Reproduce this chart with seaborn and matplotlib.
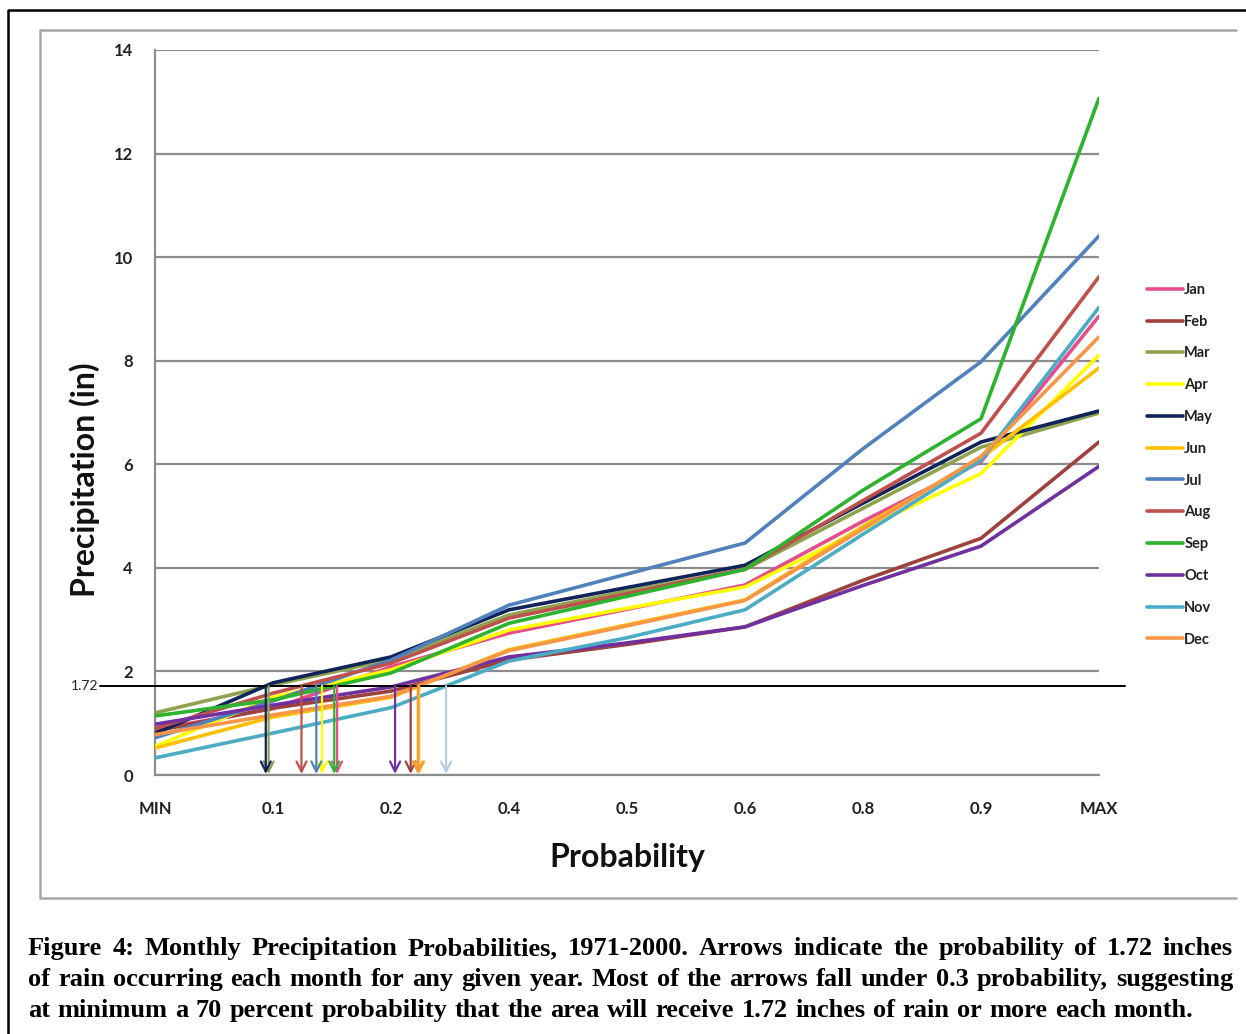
import numpy as np
import pandas as pd
import matplotlib
matplotlib.use("Agg")
import matplotlib.pyplot as plt
import matplotlib.transforms as mtransforms
from matplotlib.lines import Line2D
from matplotlib.ticker import MultipleLocator, FixedLocator
import seaborn as sns

# ---- data -----------------------------------------------------------------
probabilities = ["MIN", "0.1", "0.2", "0.4", "0.5", "0.6", "0.8", "0.9", "MAX"]
months = ["Jan", "Feb", "Mar", "Apr", "May", "Jun",
          "Jul", "Aug", "Sep", "Oct", "Nov", "Dec"]

jan = [0.88, 1.28, 2.09, 2.74, 3.20, 3.67, 4.90, 6.05, 8.86]
feb = [0.85, 1.29, 1.62, 2.22, 2.52, 2.86, 3.76, 4.57, 6.43]
mar = [1.20, 1.74, 2.23, 3.09, 3.55, 3.97, 5.15, 6.33, 6.99]
apr = [0.55, 1.50, 2.03, 2.80, 3.22, 3.63, 4.75, 5.82, 8.11]
may = [0.80, 1.78, 2.28, 3.19, 3.62, 4.05, 5.25, 6.43, 7.03]
jun = [0.52, 1.12, 1.50, 2.42, 2.90, 3.38, 4.80, 6.12, 7.86]
jul = [0.72, 1.43, 2.22, 3.28, 3.88, 4.48, 6.30, 7.98, 10.41]
aug = [0.90, 1.58, 2.16, 3.03, 3.50, 3.98, 5.30, 6.60, 9.62]
sep = [1.14, 1.45, 1.97, 2.93, 3.45, 3.97, 5.50, 6.88, 13.07]
oct_ = [0.98, 1.35, 1.70, 2.28, 2.55, 2.86, 3.66, 4.42, 5.96]
nov = [0.33, 0.81, 1.30, 2.20, 2.65, 3.19, 4.65, 6.08, 9.03]
dec = [0.78, 1.16, 1.52, 2.40, 2.88, 3.37, 4.75, 6.15, 8.46]

threshold = 1.72

series = [jan, feb, mar, apr, may, jun, jul, aug, sep, oct_, nov, dec]

# ---- styling ----------------------------------------------------------------
line_colors = ["#E84C8B", "#9E413E", "#8FA34F", "#FFFF00", "#10245A", "#FFC000",
               "#4F81BD", "#C0504D", "#2DB32D", "#7030A0", "#4BACC6", "#F79646"]
arrow_colors = list(line_colors)
arrow_colors[10] = "#B9CDE5"
palette = dict(zip(months, line_colors))

sns.set_style("white")
plt.rcParams["font.family"] = ["Lato", "DejaVu Sans"]

W, H = 1246, 1034
fig = plt.figure(figsize=(W / 100, H / 100), dpi=100)

ax_left, ax_right, ax_top, ax_bottom = 155, 1099, 50, 775
ax_w, ax_h = ax_right - ax_left, ax_bottom - ax_top
ax = fig.add_axes([ax_left / W, 1 - ax_bottom / H, ax_w / W, ax_h / H])

# long-form table for seaborn
rows = []
for m, vals in zip(months, series):
    for i, v in enumerate(vals):
        rows.append({"month": m, "pos": i, "precip": v})
df = pd.DataFrame(rows)

sns.lineplot(data=df, x="pos", y="precip", hue="month", hue_order=months,
             palette=palette, linewidth=2.6, sort=False, legend=False, ax=ax,
             zorder=3)

ax.set_xlim(0, len(probabilities) - 1)
ax.set_ylim(0, 14)

grid_c = "#8c8c8c"
ax.set_yticks(np.arange(0, 15, 2))
ax.yaxis.set_minor_locator(MultipleLocator(0.25))
ax.yaxis.grid(True, color=grid_c, linewidth=1.6, zorder=0)
ax.xaxis.grid(False)
ax.set_axisbelow(True)

ax.set_xticks(np.arange(len(probabilities)))
ax.set_xticklabels(probabilities)
ax.xaxis.set_minor_locator(FixedLocator(np.arange(len(probabilities) - 1) + 0.5))

for s in ["top", "right"]:
    ax.spines[s].set_visible(False)
for s in ["left", "bottom"]:
    ax.spines[s].set_color(grid_c)
    ax.spines[s].set_linewidth(1.6)

ax.tick_params(axis="y", which="major", direction="inout", length=10, width=1.2,
               color=grid_c, pad=11, labelsize=12)
ax.tick_params(axis="y", which="minor", direction="inout", length=9, width=1.0,
               color=grid_c)
ax.tick_params(axis="x", which="major", direction="out", length=6, width=1.2,
               color=grid_c, pad=13, labelsize=12)
ax.tick_params(axis="x", which="minor", direction="in", length=4, width=1.0,
               color=grid_c)
for lab in ax.get_xticklabels() + ax.get_yticklabels():
    lab.set_fontweight("bold")
    lab.set_color("#222222")

ax.set_xlabel("Probability", fontsize=23, fontweight="bold", color="#111111")
ax.set_ylabel("Precipitation (in)", fontsize=23, fontweight="bold", color="#111111")
ax.xaxis.set_label_coords(0.5, (ax_bottom - 857) / ax_h)
ax.yaxis.set_label_coords((85 - ax_left) / ax_w, (ax_bottom - 480) / ax_h)
ax.xaxis.label.set_va("center")
ax.yaxis.label.set_va("center")

# threshold line, running a little past both axis ends
blend = mtransforms.blended_transform_factory(ax.transAxes, ax.transData)
ax.plot([-0.058, 1.0275], [threshold, threshold], transform=blend, color="black",
        linewidth=1.4, clip_on=False, zorder=4)
ax.text(-0.060, threshold, f"{threshold:.2f}", transform=blend, ha="right",
        va="center", fontsize=10, color="#222222")

# arrows where each month first reaches the threshold
positions = np.arange(len(probabilities))
for vals, c in zip(series, arrow_colors):
    v = np.asarray(vals)
    idx = np.where((v[:-1] <= threshold) & (v[1:] > threshold))[0][0]
    xc = positions[idx] + (threshold - v[idx]) / (v[idx + 1] - v[idx])
    ax.annotate("", xy=(xc, 0.02), xytext=(xc, threshold),
                arrowprops=dict(arrowstyle="->", color=c, lw=1.6,
                                mutation_scale=18, shrinkA=0, shrinkB=0),
                zorder=5)

# legend
handles = [Line2D([0], [0], color=c, lw=2.6) for c in line_colors]
leg = fig.legend(handles, months, loc="upper left",
                 bbox_to_anchor=(1141 / W, 1 - 277 / H), frameon=False,
                 fontsize=10.5, handlelength=2.45, handletextpad=0.12,
                 labelspacing=1.22, borderaxespad=0)
for t in leg.get_texts():
    t.set_fontweight("bold")
    t.set_color("#222222")

# frames: outer black border and grey chart-area box
def fig_line(xs, ys, **kw):
    fig.add_artist(Line2D([x / W for x in xs], [1 - y / H for y in ys],
                          transform=fig.transFigure, **kw))

fig_line([8, 8, W + 5], [H + 5, 10, 10], color="black", lw=1.8)
fig_line([1236, 40, 40, 1236], [30, 30, 898, 898], color="#a6a6a6", lw=1.8)

# justified caption, one word at a time
cap_lines = [
    "Figure 4: Monthly Precipitation Probabilities, 1971-2000. Arrows indicate the probability of 1.72 inches",
    "of rain occurring each month for any given year. Most of the arrows fall under 0.3 probability, suggesting",
    "at minimum a 70 percent probability that the area will receive 1.72 inches of rain or more each month.",
]
cap_font = dict(family=["Liberation Serif", "DejaVu Serif"], fontweight="bold",
                fontsize=19, color="black")
cap_x0 = 28
cap_x1 = [1233, 1233, 1193]
cap_baseline = [955, 986, 1017]
renderer = fig.canvas.get_renderer()
for line, yy, x_end in zip(cap_lines, cap_baseline, cap_x1):
    yf = 1 - yy / H
    words = line.split(" ")
    texts = [fig.text(0, yf, w_, ha="left", va="baseline", **cap_font) for w_ in words]
    widths = [t.get_window_extent(renderer).width for t in texts]
    gap = (x_end - cap_x0 - sum(widths)) / (len(words) - 1)
    x = cap_x0
    for t, wd in zip(texts, widths):
        t.set_x(x / W)
        x += wd + gap

fig.savefig("out.png", dpi=100, facecolor="white")
